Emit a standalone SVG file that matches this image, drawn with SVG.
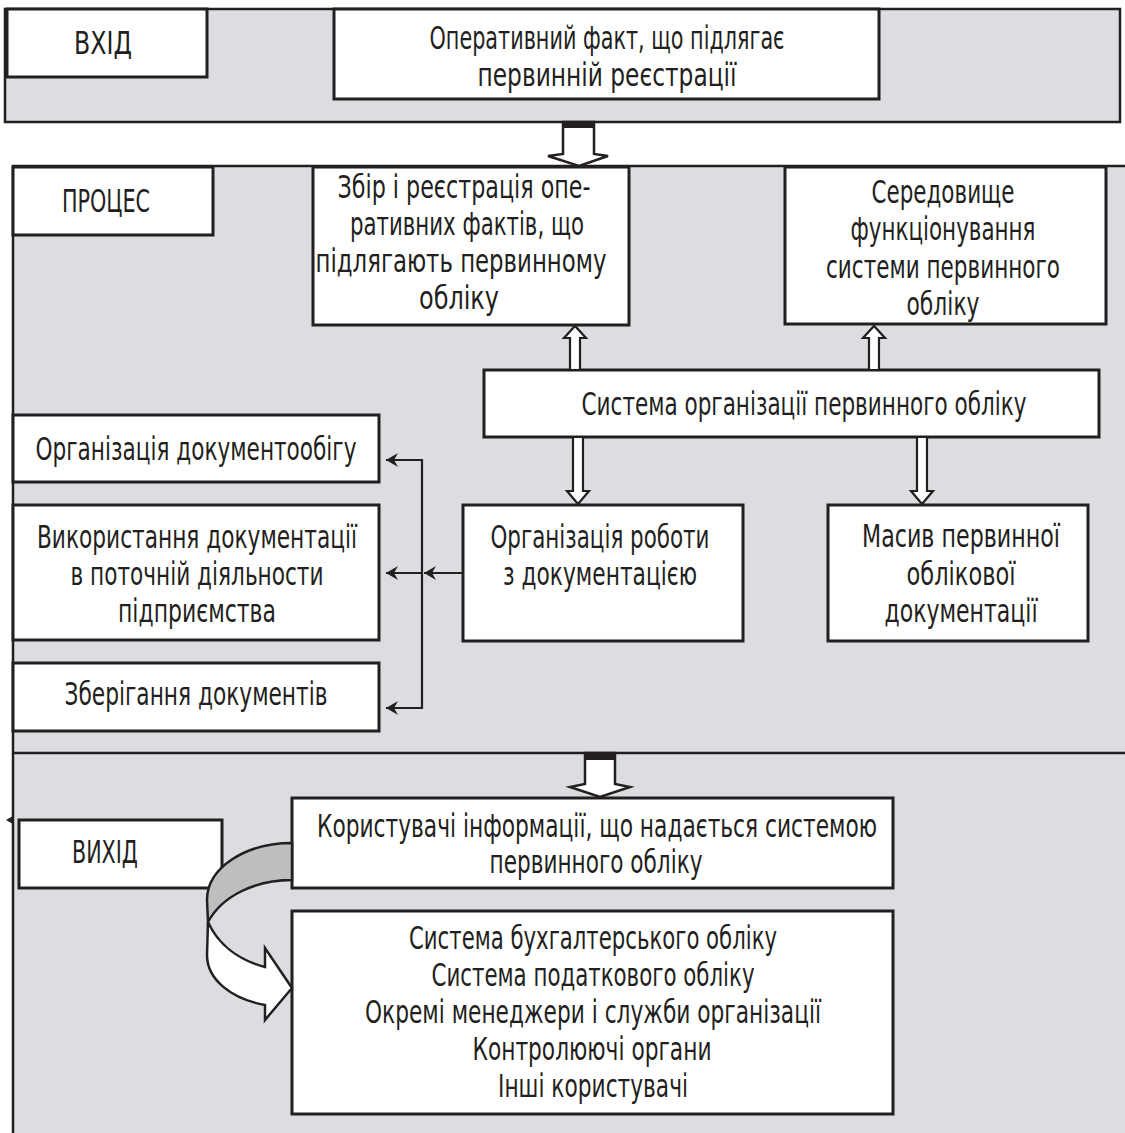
<svg xmlns="http://www.w3.org/2000/svg" width="1125" height="1133" viewBox="0 0 1125 1133">
  <style>
    .panel { fill: #dcdde0; stroke: none; }
    .edge { fill: none; stroke: #231f20; stroke-width: 2.5; }
    .box { fill: #ffffff; stroke: #231f20; stroke-width: 3; }
    .t { font-family: "Liberation Sans Narrow", "DejaVu Sans Condensed", "Liberation Sans", sans-serif; font-size: 32px; fill: #231f20; text-anchor: middle; }
    .big { fill: #ffffff; stroke: #231f20; stroke-width: 2.5; stroke-linejoin: miter; }
    .cap { fill: #231f20; }
    .dbl { fill: #ffffff; stroke: #231f20; stroke-width: 2.2; stroke-linejoin: miter; }
    .thin { fill: none; stroke: #231f20; stroke-width: 2.2; }
    .ribbon-back { fill: #bcbec0; stroke: #231f20; stroke-width: 2.5; }
    .ribbon-front { fill: #ffffff; stroke: #231f20; stroke-width: 2.5; stroke-linejoin: miter; }
  </style>
  <defs>
    <marker id="barb" markerUnits="userSpaceOnUse" markerWidth="14" markerHeight="14" refX="12" refY="7" orient="auto">
      <path d="M0,0 L12,7 L0,14 L4,7 Z" fill="#231f20"/>
    </marker>
  </defs>

  <rect width="1125" height="1133" fill="#ffffff"/>

  <!-- background bands -->
  <g id="bands">
    <rect class="panel" x="5" y="9" width="1115" height="113"/>
    <rect class="edge" x="5" y="9" width="1115" height="113"/>
    <rect class="panel" x="13" y="166" width="1112" height="967"/>
    <path class="edge" d="M1125,166 H13 V1133"/>
    <path class="edge" d="M13,753 H1125"/>
    <path d="M6,820 L13,816 L13,824 Z" fill="#231f20"/>
  </g>

  <!-- input band -->
  <g id="input-label">
    <rect class="box" x="7" y="9" width="200" height="68"/>
    <text class="t" x="103" y="54" textLength="58" lengthAdjust="spacingAndGlyphs">ВХІД</text>
  </g>
  <g id="operative-fact">
    <rect class="box" x="334" y="9" width="545" height="90"/>
    <text class="t" x="607" y="49" textLength="355" lengthAdjust="spacingAndGlyphs">Оперативний факт, що підлягає</text>
    <text class="t" x="607" y="86" textLength="259" lengthAdjust="spacingAndGlyphs">первинній реєстрації</text>
  </g>

  <!-- process band -->
  <g id="process-label">
    <rect class="box" x="13" y="167" width="200" height="68"/>
    <text class="t" x="106" y="212" textLength="88" lengthAdjust="spacingAndGlyphs">ПРОЦЕС</text>
  </g>
  <g id="collect-register">
    <rect class="box" x="313" y="167" width="316" height="158"/>
    <text class="t" x="464" y="198" textLength="253" lengthAdjust="spacingAndGlyphs">Збір і реєстрація опе-</text>
    <text class="t" x="467" y="235" textLength="234" lengthAdjust="spacingAndGlyphs">ративних фактів, що</text>
    <text class="t" x="461" y="272" textLength="291" lengthAdjust="spacingAndGlyphs">підлягають первинному</text>
    <text class="t" x="459" y="309" textLength="80" lengthAdjust="spacingAndGlyphs">обліку</text>
  </g>
  <g id="environment">
    <rect class="box" x="785" y="167" width="321" height="157"/>
    <text class="t" x="943" y="203" textLength="143" lengthAdjust="spacingAndGlyphs">Середовище</text>
    <text class="t" x="943" y="240" textLength="185" lengthAdjust="spacingAndGlyphs">функціонування</text>
    <text class="t" x="943" y="278" textLength="234" lengthAdjust="spacingAndGlyphs">системи первинного</text>
    <text class="t" x="943" y="315" textLength="73" lengthAdjust="spacingAndGlyphs">обліку</text>
  </g>
  <g id="organisation-system">
    <rect class="box" x="484" y="370" width="615" height="67"/>
    <text class="t" x="804" y="415" textLength="445" lengthAdjust="spacingAndGlyphs">Система організації первинного обліку</text>
  </g>
  <g id="doc-work">
    <rect class="box" x="463" y="505" width="280" height="136"/>
    <text class="t" x="600" y="548" textLength="219" lengthAdjust="spacingAndGlyphs">Організація роботи</text>
    <text class="t" x="600" y="585" textLength="194" lengthAdjust="spacingAndGlyphs">з документацією</text>
  </g>
  <g id="doc-array">
    <rect class="box" x="828" y="505" width="260" height="136"/>
    <text class="t" x="961" y="547" textLength="198" lengthAdjust="spacingAndGlyphs">Масив первинної</text>
    <text class="t" x="961" y="585" textLength="109" lengthAdjust="spacingAndGlyphs">облікової</text>
    <text class="t" x="961" y="622" textLength="153" lengthAdjust="spacingAndGlyphs">документації</text>
  </g>
  <g id="doc-flow">
    <rect class="box" x="13" y="415" width="366" height="67"/>
    <text class="t" x="196" y="460" textLength="321" lengthAdjust="spacingAndGlyphs">Організація документообігу</text>
  </g>
  <g id="doc-use">
    <rect class="box" x="13" y="505" width="366" height="135"/>
    <text class="t" x="197" y="548" textLength="320" lengthAdjust="spacingAndGlyphs">Використання документації</text>
    <text class="t" x="197" y="585" textLength="253" lengthAdjust="spacingAndGlyphs">в поточній діяльности</text>
    <text class="t" x="197" y="622" textLength="158" lengthAdjust="spacingAndGlyphs">підприємства</text>
  </g>
  <g id="doc-storage">
    <rect class="box" x="13" y="663" width="366" height="68"/>
    <text class="t" x="196" y="705" textLength="263" lengthAdjust="spacingAndGlyphs">Зберігання документів</text>
  </g>

  <!-- output band -->
  <g id="output-label">
    <rect class="box" x="19" y="820" width="203" height="68"/>
    <text class="t" x="105" y="863" textLength="66" lengthAdjust="spacingAndGlyphs">ВИХІД</text>
  </g>
  <g id="info-users">
    <rect class="box" x="292" y="798" width="601" height="90"/>
    <text class="t" x="597" y="837" textLength="560" lengthAdjust="spacingAndGlyphs">Користувачі інформації, що надається системою</text>
    <text class="t" x="596" y="873" textLength="213" lengthAdjust="spacingAndGlyphs">первинного обліку</text>
  </g>
  <g id="user-list">
    <rect class="box" x="292" y="911" width="601" height="203"/>
    <text class="t" x="593" y="949" textLength="368" lengthAdjust="spacingAndGlyphs">Система бухгалтерського обліку</text>
    <text class="t" x="593" y="986" textLength="323" lengthAdjust="spacingAndGlyphs">Система податкового обліку</text>
    <text class="t" x="593" y="1023" textLength="456" lengthAdjust="spacingAndGlyphs">Окремі менеджери і служби організації</text>
    <text class="t" x="592" y="1060" textLength="239" lengthAdjust="spacingAndGlyphs">Контролюючі органи</text>
    <text class="t" x="593" y="1097" textLength="190" lengthAdjust="spacingAndGlyphs">Інші користувачі</text>
  </g>

  <!-- connectors -->
  <g id="connectors">
    <!-- band-to-band block arrows -->
    <polygon class="big" points="563,122 594,122 594,154 608,156 579,166 548,156 563,154"/>
    <rect class="cap" x="563" y="122" width="31" height="6"/>
    <polygon class="big" points="585,753 615,753 615,784 630,787 600,797 570,787 585,784"/>
    <rect class="cap" x="585" y="753" width="30" height="7"/>

    <!-- hollow arrows around the organisation system -->
    <polygon class="dbl" points="570,370 570,338 564,338 575,326 586,338 580,338 580,370"/>
    <polygon class="dbl" points="869,370 869,338 863,338 874,326 885,338 879,338 879,370"/>
    <polygon class="dbl" points="573,437 573,491 567,491 578,504 589,491 583,491 583,437"/>
    <polygon class="dbl" points="917,437 917,491 911,491 922,504 933,491 927,491 927,437"/>

    <!-- distribution bracket -->
    <path class="thin" d="M386,460 H422 V708 H386"/>
    <path class="thin" d="M422,460 H386" marker-end="url(#barb)"/>
    <path class="thin" d="M422,708 H386" marker-end="url(#barb)"/>
    <path class="thin" d="M422,573 H386" marker-end="url(#barb)"/>
    <path class="thin" d="M463,573 H424" marker-end="url(#barb)"/>

    <!-- curved ribbon arrow -->
    <path class="ribbon-back" d="M292,843 C245,843 207,868 207,900 L208,922 C222,896 255,880 292,880 Z"/>
    <path class="ribbon-front" d="M208,922 C218,944 238,960 265,967 L265,948 L292,988 L265,1020 L265,1005 C232,999 207,980 207,955 Z"/>
  </g>
</svg>
